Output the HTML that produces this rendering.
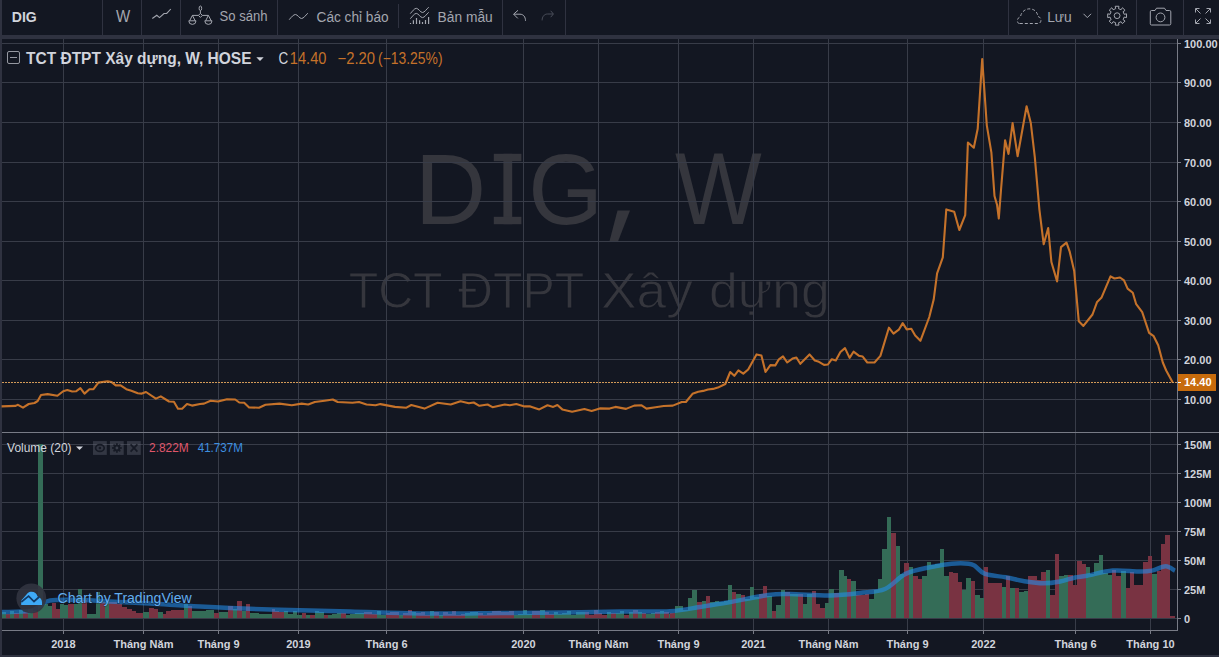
<!DOCTYPE html>
<html><head><meta charset="utf-8"><style>
html,body{margin:0;padding:0;}
body{width:1219px;height:657px;overflow:hidden;background:#2f3240;}
svg{display:block;}
</style></head><body>
<svg width="1219" height="657" viewBox="0 0 1219 657">
<rect x="2" y="0" width="1217" height="35" fill="#131722"/>
<rect x="102" y="0" width="1" height="35" fill="#2f3240"/>
<rect x="141" y="0" width="1" height="35" fill="#2f3240"/>
<rect x="180" y="0" width="1" height="35" fill="#2f3240"/>
<rect x="277" y="0" width="1" height="35" fill="#2f3240"/>
<rect x="398" y="4" width="1" height="24" fill="#2f3240"/>
<rect x="502" y="0" width="1" height="35" fill="#2f3240"/>
<rect x="565" y="0" width="1" height="35" fill="#2f3240"/>
<rect x="1008" y="0" width="1" height="35" fill="#2f3240"/>
<rect x="1097" y="0" width="1" height="35" fill="#2f3240"/>
<rect x="1136" y="0" width="1" height="35" fill="#2f3240"/>
<rect x="1183" y="0" width="1" height="35" fill="#2f3240"/>
<text x="11.82" y="21.90" textLength="25.00" lengthAdjust="spacingAndGlyphs" font-family="Liberation Sans" font-weight="700" font-size="15.00" fill="#d1d4dc" >DIG</text>
<text x="116.05" y="21.70" textLength="14.21" lengthAdjust="spacingAndGlyphs" font-family="Liberation Sans" font-weight="400" font-size="15.57" fill="#a3a6af" >W</text>
<polyline points="152.3,18.5 156.8,15.3 159.5,17.6 164,13.5 166.7,13.4 170.8,9" fill="none" stroke="#a3a6af" stroke-width="1.1"/>
<g fill="none" stroke="#a3a6af" stroke-width="1"><ellipse cx="200.4" cy="8.3" rx="1.3" ry="2.3"/><line x1="200.4" y1="10.6" x2="200.4" y2="13.4"/><path d="M200.4 13.4 L202.4 15.4 L200.4 17.4 L198.4 15.4 Z"/><line x1="192.4" y1="15.4" x2="198.4" y2="15.4"/><line x1="202.4" y1="15.4" x2="208.4" y2="15.4"/><path d="M189.6 20.8 L192.4 15.4 L195.2 20.8"/><path d="M188.8 20.8 H196 A3.6 3.6 0 0 1 188.8 20.8 Z"/><path d="M205.6 20.8 L208.4 15.4 L211.2 20.8"/><path d="M204.8 20.8 H212 A3.6 3.6 0 0 1 204.8 20.8 Z"/></g>
<text x="219.55" y="21.00" textLength="48.07" lengthAdjust="spacingAndGlyphs" font-family="Liberation Sans" font-weight="400" font-size="14.43" fill="#a3a6af" >So sánh</text>
<path d="M289.2 19.7 C291.5 17 293.5 14.5 295.5 14.5 C297.5 14.5 299.5 18.5 301.5 18.5 C303.5 18.5 305.5 15.5 307.8 13.2" fill="none" stroke="#a3a6af" stroke-width="1"/>
<text x="316.52" y="21.85" textLength="72.14" lengthAdjust="spacingAndGlyphs" font-family="Liberation Sans" font-weight="400" font-size="14.29" fill="#a3a6af" >Các chỉ báo</text>
<g fill="none" stroke="#a3a6af" stroke-width="1"><path d="M410.3 13.6 C412.3 11.5 414.3 8.3 416.3 8.3 C418.5 8.3 420.3 12.5 422.5 12.5 C424.5 12.5 426.5 9.2 428.7 7.2"/><path d="M410.3 18.7 C412.3 16.6 414.3 13.4 416.3 13.4 C418.5 13.4 420.3 17.6 422.5 17.6 C424.5 17.6 426.5 14.3 428.7 12.3"/></g>
<line x1="410.5" y1="23.0" x2="410.5" y2="24" stroke="#a3a6af" stroke-width="1.2"/>
<line x1="413.4" y1="20.2" x2="413.4" y2="24" stroke="#a3a6af" stroke-width="1.2"/>
<line x1="416.5" y1="18" x2="416.5" y2="24" stroke="#a3a6af" stroke-width="1.2"/>
<line x1="419.6" y1="20.2" x2="419.6" y2="24" stroke="#a3a6af" stroke-width="1.2"/>
<line x1="422.5" y1="22" x2="422.5" y2="24" stroke="#a3a6af" stroke-width="1.2"/>
<line x1="425.5" y1="20" x2="425.5" y2="24" stroke="#a3a6af" stroke-width="1.2"/>
<line x1="428.6" y1="17.1" x2="428.6" y2="24" stroke="#a3a6af" stroke-width="1.2"/>
<text x="437.60" y="21.90" textLength="55.16" lengthAdjust="spacingAndGlyphs" font-family="Liberation Sans" font-weight="400" font-size="14.43" fill="#a3a6af" >Bản mẫu</text>
<g fill="none" stroke="#a3a6af" stroke-width="1"><path d="M518 10.3 L513.6 14.2 L517.8 18.4"/><path d="M513.8 14.2 H520 C523.5 14.2 525.5 17 525.5 20.8"/></g>
<g fill="none" stroke="#4a4e5a" stroke-width="1"><path d="M550.7 10.8 L553.4 14 L550.7 17.2"/><path d="M553.2 14 H547.5 C544 14 542.1 17 542.1 20.4"/></g>
<path d="M1019.5 23.5 C1016.5 23.5 1016.5 17.5 1020.5 17 C1021 11.5 1026.5 8 1031 9 C1035 9.5 1037.5 12.5 1037.8 16.5 C1042 17 1042 23.5 1038 23.5 Z" fill="none" stroke="#a3a6af" stroke-width="1" stroke-dasharray="3 2"/>
<text x="1047.20" y="21.70" textLength="24.60" lengthAdjust="spacingAndGlyphs" font-family="Liberation Sans" font-weight="400" font-size="14.29" fill="#a3a6af" >Lưu</text>
<polyline points="1083.5,13.8 1087.3,17.6 1091.1,13.8" fill="none" stroke="#a3a6af" stroke-width="1"/>
<path d="M1126.52 13.83 L1126.52 17.57 L1124.16 17.10 L1123.09 19.70 L1125.08 21.03 L1122.43 23.68 L1121.10 21.69 L1118.50 22.76 L1118.97 25.12 L1115.23 25.12 L1115.70 22.76 L1113.10 21.69 L1111.77 23.68 L1109.12 21.03 L1111.11 19.70 L1110.04 17.10 L1107.68 17.57 L1107.68 13.83 L1110.04 14.30 L1111.11 11.70 L1109.12 10.37 L1111.77 7.72 L1113.10 9.71 L1115.70 8.64 L1115.23 6.28 L1118.97 6.28 L1118.50 8.64 L1121.10 9.71 L1122.43 7.72 L1125.08 10.37 L1123.09 11.70 L1124.16 14.30 Z" fill="none" stroke="#a3a6af" stroke-width="1" stroke-linejoin="round"/><circle cx="1117.1" cy="15.7" r="2.9" fill="none" stroke="#a3a6af" stroke-width="1"/>
<path d="M1151.5 10.5 H1155 L1156.5 8.2 H1164.5 L1166 10.5 H1169.5 Q1170.8 10.5 1170.8 11.8 V23.7 Q1170.8 25 1169.5 25 H1151.5 Q1150.3 25 1150.3 23.7 V11.8 Q1150.3 10.5 1151.5 10.5 Z" fill="none" stroke="#a3a6af" stroke-width="1"/><circle cx="1160.5" cy="17.4" r="4.4" fill="none" stroke="#a3a6af" stroke-width="1"/>
<g fill="none" stroke="#a3a6af" stroke-width="1"><path d="M1195.5 12.5 V8.5 H1199.5"/><path d="M1206.5 8.5 H1210.5 V12.5"/><path d="M1210.5 19.5 V23.5 H1206.5"/><path d="M1199.5 23.5 H1195.5 V19.5"/><line x1="1196" y1="9" x2="1200.5" y2="13.5"/><line x1="1210" y1="9" x2="1205.5" y2="13.5"/><line x1="1210" y1="23" x2="1205.5" y2="18.5"/><line x1="1196" y1="23" x2="1200.5" y2="18.5"/></g>
<rect x="2" y="39" width="1217" height="616" fill="#131722"/>
<g fill="#35363d">
<text transform="translate(414.68 223.60) scale(0.9813 1)" font-family="Liberation Sans" font-size="100.87">D</text>
<text transform="translate(528.19 223.60) scale(0.9534 1)" font-family="Liberation Sans" font-size="100.86">G</text>
<text transform="translate(675.08 223.90) scale(0.9075 1)" font-family="Liberation Sans" font-size="101.30">W</text>
<rect x="503.4" y="153.8" width="8.8" height="70.4"/><rect x="493.8" y="153.8" width="27.6" height="7.4"/><rect x="493.8" y="216.8" width="27.6" height="7.4"/>
<path d="M617.5 210.5 H630 L617.8 242 H609.3 Z"/>
</g>
<text x="348.63" y="307.90" textLength="94.02" lengthAdjust="spacingAndGlyphs" font-family="Liberation Sans" font-weight="400" font-size="50.43" fill="#35363d" stroke="#131722" stroke-width="0.9">TCT</text>
<text x="458.12" y="307.90" textLength="126.09" lengthAdjust="spacingAndGlyphs" font-family="Liberation Sans" font-weight="400" font-size="50.43" fill="#35363d" stroke="#131722" stroke-width="0.9">ĐTPT</text>
<text x="600.90" y="307.90" textLength="91.98" lengthAdjust="spacingAndGlyphs" font-family="Liberation Sans" font-weight="400" font-size="50.43" fill="#35363d" stroke="#131722" stroke-width="0.9">Xây</text>
<text x="708.93" y="307.90" textLength="120.88" lengthAdjust="spacingAndGlyphs" font-family="Liberation Sans" font-weight="400" font-size="50.43" fill="#35363d" stroke="#131722" stroke-width="0.9">dựng</text>
<rect x="2" y="43" width="1175" height="1" fill="#383c48"/>
<rect x="2" y="82" width="1175" height="1" fill="#383c48"/>
<rect x="2" y="122" width="1175" height="1" fill="#383c48"/>
<rect x="2" y="162" width="1175" height="1" fill="#383c48"/>
<rect x="2" y="201" width="1175" height="1" fill="#383c48"/>
<rect x="2" y="241" width="1175" height="1" fill="#383c48"/>
<rect x="2" y="280" width="1175" height="1" fill="#383c48"/>
<rect x="2" y="320" width="1175" height="1" fill="#383c48"/>
<rect x="2" y="359" width="1175" height="1" fill="#383c48"/>
<rect x="2" y="399" width="1175" height="1" fill="#383c48"/>
<rect x="2" y="618" width="1175" height="1" fill="#383c48"/>
<rect x="2" y="589" width="1175" height="1" fill="#383c48"/>
<rect x="2" y="560" width="1175" height="1" fill="#383c48"/>
<rect x="2" y="531" width="1175" height="1" fill="#383c48"/>
<rect x="2" y="502" width="1175" height="1" fill="#383c48"/>
<rect x="2" y="473" width="1175" height="1" fill="#383c48"/>
<rect x="2" y="444" width="1175" height="1" fill="#383c48"/>
<rect x="63" y="39" width="1" height="393" fill="#383c48"/>
<rect x="63" y="433" width="1" height="197" fill="#383c48"/>
<rect x="143" y="39" width="1" height="393" fill="#383c48"/>
<rect x="143" y="433" width="1" height="197" fill="#383c48"/>
<rect x="218" y="39" width="1" height="393" fill="#383c48"/>
<rect x="218" y="433" width="1" height="197" fill="#383c48"/>
<rect x="298" y="39" width="1" height="393" fill="#383c48"/>
<rect x="298" y="433" width="1" height="197" fill="#383c48"/>
<rect x="386" y="39" width="1" height="393" fill="#383c48"/>
<rect x="386" y="433" width="1" height="197" fill="#383c48"/>
<rect x="523" y="39" width="1" height="393" fill="#383c48"/>
<rect x="523" y="433" width="1" height="197" fill="#383c48"/>
<rect x="598" y="39" width="1" height="393" fill="#383c48"/>
<rect x="598" y="433" width="1" height="197" fill="#383c48"/>
<rect x="678" y="39" width="1" height="393" fill="#383c48"/>
<rect x="678" y="433" width="1" height="197" fill="#383c48"/>
<rect x="753" y="39" width="1" height="393" fill="#383c48"/>
<rect x="753" y="433" width="1" height="197" fill="#383c48"/>
<rect x="828" y="39" width="1" height="393" fill="#383c48"/>
<rect x="828" y="433" width="1" height="197" fill="#383c48"/>
<rect x="907" y="39" width="1" height="393" fill="#383c48"/>
<rect x="907" y="433" width="1" height="197" fill="#383c48"/>
<rect x="983" y="39" width="1" height="393" fill="#383c48"/>
<rect x="983" y="433" width="1" height="197" fill="#383c48"/>
<rect x="1075" y="39" width="1" height="393" fill="#383c48"/>
<rect x="1075" y="433" width="1" height="197" fill="#383c48"/>
<rect x="1150" y="39" width="1" height="393" fill="#383c48"/>
<rect x="1150" y="433" width="1" height="197" fill="#383c48"/>
<rect x="2" y="612" width="4" height="6" fill="#346c57"/>
<rect x="6" y="614" width="4" height="4" fill="#793342"/>
<rect x="10" y="611" width="4" height="7" fill="#346c57"/>
<rect x="14" y="613" width="5" height="5" fill="#793342"/>
<rect x="19" y="610" width="4" height="8" fill="#346c57"/>
<rect x="23" y="612" width="5" height="6" fill="#793342"/>
<rect x="28" y="609" width="5" height="9" fill="#346c57"/>
<rect x="33" y="611" width="5" height="7" fill="#793342"/>
<rect x="38" y="444" width="5" height="174" fill="#346c57"/>
<rect x="43" y="604" width="5" height="14" fill="#346c57"/>
<rect x="48" y="606" width="4" height="12" fill="#346c57"/>
<rect x="52" y="603" width="4" height="15" fill="#793342"/>
<rect x="56" y="609" width="4" height="9" fill="#793342"/>
<rect x="60" y="604" width="4" height="14" fill="#346c57"/>
<rect x="64" y="605" width="4" height="13" fill="#346c57"/>
<rect x="68" y="604" width="6" height="14" fill="#793342"/>
<rect x="74" y="604" width="4" height="14" fill="#346c57"/>
<rect x="78" y="589" width="4" height="29" fill="#346c57"/>
<rect x="82" y="600" width="5" height="18" fill="#793342"/>
<rect x="87" y="614" width="4" height="4" fill="#346c57"/>
<rect x="91" y="614" width="5" height="4" fill="#346c57"/>
<rect x="96" y="592" width="4" height="26" fill="#346c57"/>
<rect x="100" y="602" width="5" height="16" fill="#793342"/>
<rect x="105" y="602" width="4" height="16" fill="#346c57"/>
<rect x="109" y="602" width="8" height="16" fill="#793342"/>
<rect x="117" y="604" width="5" height="14" fill="#793342"/>
<rect x="122" y="607" width="5" height="11" fill="#793342"/>
<rect x="127" y="609" width="5" height="9" fill="#793342"/>
<rect x="132" y="611" width="4" height="7" fill="#793342"/>
<rect x="136" y="613" width="7" height="5" fill="#793342"/>
<rect x="143" y="612" width="6" height="6" fill="#346c57"/>
<rect x="149" y="608" width="5" height="10" fill="#793342"/>
<rect x="154" y="609" width="4" height="9" fill="#793342"/>
<rect x="158" y="612" width="5" height="6" fill="#346c57"/>
<rect x="163" y="614" width="3" height="4" fill="#793342"/>
<rect x="166" y="611" width="5" height="7" fill="#793342"/>
<rect x="171" y="610" width="13" height="8" fill="#793342"/>
<rect x="184" y="604" width="4" height="14" fill="#346c57"/>
<rect x="188" y="606" width="4" height="12" fill="#793342"/>
<rect x="192" y="611" width="14" height="7" fill="#346c57"/>
<rect x="206" y="610" width="8" height="8" fill="#346c57"/>
<rect x="214" y="613" width="5" height="5" fill="#793342"/>
<rect x="219" y="612" width="9" height="6" fill="#346c57"/>
<rect x="228" y="606" width="5" height="12" fill="#793342"/>
<rect x="233" y="609" width="4" height="9" fill="#346c57"/>
<rect x="237" y="601" width="5" height="17" fill="#793342"/>
<rect x="242" y="611" width="4" height="7" fill="#346c57"/>
<rect x="246" y="604" width="4" height="14" fill="#793342"/>
<rect x="250" y="613" width="9" height="5" fill="#346c57"/>
<rect x="259" y="614" width="13" height="4" fill="#346c57"/>
<rect x="272" y="609" width="3" height="9" fill="#793342"/>
<rect x="275" y="611" width="4" height="7" fill="#793342"/>
<rect x="279" y="612" width="5" height="6" fill="#793342"/>
<rect x="284" y="611" width="4" height="7" fill="#346c57"/>
<rect x="288" y="614" width="5" height="4" fill="#346c57"/>
<rect x="293" y="611" width="4" height="7" fill="#346c57"/>
<rect x="297" y="615" width="5" height="3" fill="#346c57"/>
<rect x="302" y="613" width="4" height="5" fill="#793342"/>
<rect x="306" y="615" width="4" height="3" fill="#346c57"/>
<rect x="310" y="615" width="5" height="3" fill="#793342"/>
<rect x="315" y="611" width="4" height="7" fill="#346c57"/>
<rect x="319" y="612" width="5" height="6" fill="#346c57"/>
<rect x="324" y="615" width="4" height="3" fill="#793342"/>
<rect x="328" y="615" width="4" height="3" fill="#346c57"/>
<rect x="332" y="614" width="5" height="4" fill="#346c57"/>
<rect x="337" y="613" width="4" height="5" fill="#346c57"/>
<rect x="341" y="613" width="5" height="5" fill="#793342"/>
<rect x="346" y="615" width="4" height="3" fill="#346c57"/>
<rect x="350" y="614" width="5" height="4" fill="#346c57"/>
<rect x="355" y="613" width="4" height="5" fill="#346c57"/>
<rect x="359" y="613" width="5" height="5" fill="#346c57"/>
<rect x="364" y="612" width="4" height="6" fill="#793342"/>
<rect x="368" y="612" width="4" height="6" fill="#793342"/>
<rect x="372" y="614" width="5" height="4" fill="#793342"/>
<rect x="377" y="611" width="4" height="7" fill="#346c57"/>
<rect x="381" y="615" width="5" height="3" fill="#346c57"/>
<rect x="386" y="613" width="4" height="5" fill="#793342"/>
<rect x="390" y="612" width="4" height="6" fill="#793342"/>
<rect x="394" y="612" width="5" height="6" fill="#793342"/>
<rect x="399" y="615" width="4" height="3" fill="#346c57"/>
<rect x="403" y="613" width="5" height="5" fill="#793342"/>
<rect x="408" y="610" width="4" height="8" fill="#793342"/>
<rect x="412" y="612" width="4" height="6" fill="#346c57"/>
<rect x="416" y="613" width="5" height="5" fill="#793342"/>
<rect x="421" y="612" width="4" height="6" fill="#793342"/>
<rect x="425" y="615" width="5" height="3" fill="#793342"/>
<rect x="430" y="611" width="4" height="7" fill="#346c57"/>
<rect x="434" y="612" width="5" height="6" fill="#793342"/>
<rect x="439" y="615" width="4" height="3" fill="#346c57"/>
<rect x="443" y="612" width="5" height="6" fill="#793342"/>
<rect x="448" y="614" width="4" height="4" fill="#793342"/>
<rect x="452" y="611" width="4" height="7" fill="#793342"/>
<rect x="456" y="615" width="5" height="3" fill="#793342"/>
<rect x="461" y="614" width="4" height="4" fill="#793342"/>
<rect x="465" y="613" width="5" height="5" fill="#346c57"/>
<rect x="470" y="612" width="4" height="6" fill="#346c57"/>
<rect x="474" y="612" width="4" height="6" fill="#346c57"/>
<rect x="478" y="613" width="5" height="5" fill="#793342"/>
<rect x="483" y="615" width="4" height="3" fill="#793342"/>
<rect x="487" y="613" width="5" height="5" fill="#793342"/>
<rect x="492" y="611" width="4" height="7" fill="#793342"/>
<rect x="496" y="611" width="5" height="7" fill="#793342"/>
<rect x="501" y="612" width="4" height="6" fill="#793342"/>
<rect x="505" y="612" width="4" height="6" fill="#793342"/>
<rect x="509" y="611" width="5" height="7" fill="#793342"/>
<rect x="514" y="615" width="4" height="3" fill="#346c57"/>
<rect x="518" y="614" width="5" height="4" fill="#346c57"/>
<rect x="523" y="610" width="4" height="8" fill="#346c57"/>
<rect x="527" y="614" width="5" height="4" fill="#346c57"/>
<rect x="532" y="611" width="4" height="7" fill="#793342"/>
<rect x="536" y="611" width="4" height="7" fill="#793342"/>
<rect x="540" y="610" width="5" height="8" fill="#346c57"/>
<rect x="545" y="612" width="4" height="6" fill="#793342"/>
<rect x="549" y="614" width="5" height="4" fill="#793342"/>
<rect x="554" y="612" width="4" height="6" fill="#346c57"/>
<rect x="558" y="614" width="4" height="4" fill="#346c57"/>
<rect x="562" y="613" width="5" height="5" fill="#346c57"/>
<rect x="567" y="611" width="4" height="7" fill="#346c57"/>
<rect x="571" y="615" width="5" height="3" fill="#346c57"/>
<rect x="576" y="612" width="4" height="6" fill="#346c57"/>
<rect x="580" y="612" width="5" height="6" fill="#346c57"/>
<rect x="585" y="612" width="4" height="6" fill="#793342"/>
<rect x="589" y="615" width="5" height="3" fill="#793342"/>
<rect x="594" y="610" width="4" height="8" fill="#793342"/>
<rect x="598" y="613" width="4" height="5" fill="#793342"/>
<rect x="602" y="615" width="5" height="3" fill="#793342"/>
<rect x="607" y="612" width="4" height="6" fill="#346c57"/>
<rect x="611" y="613" width="5" height="5" fill="#793342"/>
<rect x="616" y="613" width="4" height="5" fill="#346c57"/>
<rect x="620" y="611" width="4" height="7" fill="#346c57"/>
<rect x="624" y="615" width="5" height="3" fill="#793342"/>
<rect x="629" y="612" width="4" height="6" fill="#346c57"/>
<rect x="633" y="610" width="5" height="8" fill="#793342"/>
<rect x="638" y="612" width="4" height="6" fill="#346c57"/>
<rect x="642" y="613" width="4" height="5" fill="#793342"/>
<rect x="646" y="614" width="5" height="4" fill="#346c57"/>
<rect x="651" y="613" width="4" height="5" fill="#346c57"/>
<rect x="655" y="612" width="5" height="6" fill="#793342"/>
<rect x="660" y="611" width="4" height="7" fill="#346c57"/>
<rect x="664" y="612" width="5" height="6" fill="#793342"/>
<rect x="669" y="614" width="4" height="4" fill="#346c57"/>
<rect x="670" y="613" width="5" height="5" fill="#793342"/>
<rect x="675" y="606" width="8" height="12" fill="#346c57"/>
<rect x="683" y="610" width="5" height="8" fill="#346c57"/>
<rect x="688" y="598" width="4" height="20" fill="#346c57"/>
<rect x="692" y="590" width="5" height="28" fill="#346c57"/>
<rect x="697" y="602" width="5" height="16" fill="#793342"/>
<rect x="702" y="601" width="4" height="17" fill="#346c57"/>
<rect x="706" y="596" width="4" height="22" fill="#793342"/>
<rect x="710" y="602" width="5" height="16" fill="#346c57"/>
<rect x="715" y="601" width="4" height="17" fill="#346c57"/>
<rect x="719" y="602" width="5" height="16" fill="#346c57"/>
<rect x="724" y="601" width="4" height="17" fill="#346c57"/>
<rect x="728" y="585" width="4" height="33" fill="#346c57"/>
<rect x="732" y="592" width="4" height="26" fill="#793342"/>
<rect x="736" y="594" width="5" height="24" fill="#346c57"/>
<rect x="741" y="595" width="4" height="23" fill="#793342"/>
<rect x="745" y="599" width="5" height="19" fill="#346c57"/>
<rect x="750" y="587" width="4" height="31" fill="#346c57"/>
<rect x="754" y="597" width="5" height="21" fill="#346c57"/>
<rect x="759" y="594" width="4" height="24" fill="#793342"/>
<rect x="763" y="586" width="4" height="32" fill="#793342"/>
<rect x="767" y="596" width="5" height="22" fill="#346c57"/>
<rect x="772" y="611" width="4" height="7" fill="#793342"/>
<rect x="776" y="605" width="5" height="13" fill="#346c57"/>
<rect x="781" y="590" width="4" height="28" fill="#346c57"/>
<rect x="785" y="592" width="5" height="26" fill="#793342"/>
<rect x="790" y="594" width="8" height="24" fill="#346c57"/>
<rect x="798" y="594" width="5" height="24" fill="#793342"/>
<rect x="803" y="604" width="4" height="14" fill="#346c57"/>
<rect x="807" y="594" width="5" height="24" fill="#346c57"/>
<rect x="812" y="591" width="4" height="27" fill="#793342"/>
<rect x="816" y="604" width="4" height="14" fill="#793342"/>
<rect x="820" y="608" width="5" height="10" fill="#793342"/>
<rect x="825" y="603" width="4" height="15" fill="#346c57"/>
<rect x="829" y="589" width="5" height="29" fill="#346c57"/>
<rect x="834" y="593" width="5" height="25" fill="#793342"/>
<rect x="839" y="570" width="5" height="48" fill="#346c57"/>
<rect x="844" y="576" width="3" height="42" fill="#346c57"/>
<rect x="847" y="579" width="4" height="39" fill="#793342"/>
<rect x="851" y="581" width="5" height="37" fill="#346c57"/>
<rect x="856" y="595" width="4" height="23" fill="#793342"/>
<rect x="860" y="595" width="5" height="23" fill="#793342"/>
<rect x="865" y="594" width="4" height="24" fill="#793342"/>
<rect x="869" y="599" width="5" height="19" fill="#346c57"/>
<rect x="874" y="590" width="4" height="28" fill="#346c57"/>
<rect x="878" y="579" width="4" height="39" fill="#346c57"/>
<rect x="882" y="549" width="5" height="69" fill="#346c57"/>
<rect x="887" y="517" width="4" height="101" fill="#346c57"/>
<rect x="891" y="533" width="5" height="85" fill="#793342"/>
<rect x="896" y="546" width="4" height="72" fill="#346c57"/>
<rect x="900" y="574" width="4" height="44" fill="#346c57"/>
<rect x="904" y="563" width="5" height="55" fill="#793342"/>
<rect x="909" y="567" width="4" height="51" fill="#346c57"/>
<rect x="913" y="576" width="5" height="42" fill="#793342"/>
<rect x="918" y="579" width="4" height="39" fill="#793342"/>
<rect x="922" y="576" width="5" height="42" fill="#346c57"/>
<rect x="927" y="562" width="4" height="56" fill="#346c57"/>
<rect x="931" y="565" width="4" height="53" fill="#346c57"/>
<rect x="935" y="564" width="5" height="54" fill="#346c57"/>
<rect x="940" y="549" width="4" height="69" fill="#346c57"/>
<rect x="944" y="576" width="5" height="42" fill="#346c57"/>
<rect x="949" y="572" width="4" height="46" fill="#793342"/>
<rect x="953" y="573" width="5" height="45" fill="#793342"/>
<rect x="958" y="582" width="4" height="36" fill="#793342"/>
<rect x="962" y="590" width="4" height="28" fill="#346c57"/>
<rect x="966" y="578" width="5" height="40" fill="#346c57"/>
<rect x="971" y="581" width="4" height="37" fill="#793342"/>
<rect x="975" y="595" width="5" height="23" fill="#346c57"/>
<rect x="980" y="598" width="4" height="20" fill="#346c57"/>
<rect x="984" y="567" width="4" height="51" fill="#793342"/>
<rect x="988" y="583" width="14" height="35" fill="#793342"/>
<rect x="1002" y="587" width="4" height="31" fill="#346c57"/>
<rect x="1006" y="576" width="4" height="42" fill="#793342"/>
<rect x="1010" y="588" width="5" height="30" fill="#346c57"/>
<rect x="1015" y="588" width="4" height="30" fill="#793342"/>
<rect x="1019" y="592" width="5" height="26" fill="#346c57"/>
<rect x="1024" y="591" width="4" height="27" fill="#346c57"/>
<rect x="1028" y="576" width="9" height="42" fill="#793342"/>
<rect x="1037" y="580" width="4" height="38" fill="#793342"/>
<rect x="1041" y="572" width="5" height="46" fill="#793342"/>
<rect x="1046" y="570" width="4" height="48" fill="#346c57"/>
<rect x="1050" y="595" width="5" height="23" fill="#793342"/>
<rect x="1055" y="554" width="4" height="64" fill="#793342"/>
<rect x="1059" y="576" width="5" height="42" fill="#346c57"/>
<rect x="1064" y="575" width="4" height="43" fill="#346c57"/>
<rect x="1068" y="575" width="5" height="43" fill="#793342"/>
<rect x="1073" y="585" width="4" height="33" fill="#793342"/>
<rect x="1077" y="561" width="5" height="57" fill="#793342"/>
<rect x="1082" y="564" width="4" height="54" fill="#793342"/>
<rect x="1086" y="567" width="4" height="51" fill="#346c57"/>
<rect x="1090" y="574" width="4" height="44" fill="#346c57"/>
<rect x="1094" y="563" width="5" height="55" fill="#346c57"/>
<rect x="1099" y="555" width="4" height="63" fill="#346c57"/>
<rect x="1103" y="573" width="5" height="45" fill="#346c57"/>
<rect x="1108" y="575" width="4" height="43" fill="#346c57"/>
<rect x="1112" y="570" width="4" height="48" fill="#793342"/>
<rect x="1116" y="576" width="5" height="42" fill="#793342"/>
<rect x="1121" y="571" width="5" height="47" fill="#346c57"/>
<rect x="1126" y="588" width="4" height="30" fill="#793342"/>
<rect x="1130" y="572" width="4" height="46" fill="#793342"/>
<rect x="1134" y="585" width="9" height="33" fill="#793342"/>
<rect x="1143" y="562" width="5" height="56" fill="#793342"/>
<rect x="1148" y="556" width="4" height="62" fill="#793342"/>
<rect x="1152" y="574" width="5" height="44" fill="#346c57"/>
<rect x="1157" y="571" width="4" height="47" fill="#793342"/>
<rect x="1161" y="544" width="4" height="74" fill="#793342"/>
<rect x="1165" y="535" width="5" height="83" fill="#793342"/>
<rect x="1170" y="616" width="5" height="2" fill="#793342"/>
<path d="M2 612 C6.7 611.8 23.7 612.0 30 611 C36.3 610.0 36.7 607.8 40 606 C43.3 604.2 43.3 601.5 50 600.5 C56.7 599.5 70.0 599.8 80 600 C90.0 600.2 98.3 600.9 110 601.5 C121.7 602.1 135.0 602.7 150 603.5 C165.0 604.3 180.0 605.5 200 606.5 C220.0 607.5 245.0 608.7 270 609.5 C295.0 610.3 325.0 610.8 350 611.5 C375.0 612.2 395.0 613.2 420 613.5 C445.0 613.8 476.7 613.2 500 613 C523.3 612.8 540.0 612.8 560 612.5 C580.0 612.2 601.7 611.7 620 611.5 C638.3 611.3 656.7 612.0 670 611.2 C683.3 610.5 690.2 608.5 700 607 C709.8 605.5 717.7 604.3 729 602.3 C740.3 600.3 757.8 596.4 768 595 C778.2 593.6 779.7 593.9 790 594 C800.3 594.1 818.3 595.7 830 595.5 C841.7 595.3 850.8 594.1 860 593 C869.2 591.9 877.4 592.2 885 589 C892.6 585.8 897.9 577.6 905.6 573.9 C913.3 570.2 923.4 568.7 931 567 C938.6 565.3 945.2 564.2 951.5 563.7 C957.8 563.2 964.7 563.3 968.6 563.7 C972.5 564.1 972.3 564.3 975 566 C977.7 567.7 979.9 572.0 985 573.9 C990.1 575.8 998.9 576.0 1005.7 577.3 C1012.6 578.6 1019.9 580.5 1026.1 581.5 C1032.3 582.5 1037.4 583.3 1043.1 583.3 C1048.8 583.3 1054.9 582.5 1060.2 581.5 C1065.5 580.5 1070.5 578.5 1075 577.5 C1079.5 576.5 1080.7 576.9 1087 575.7 C1093.3 574.6 1104.2 571.3 1112.7 570.6 C1121.2 569.9 1131.8 571.4 1138.3 571.4 C1144.8 571.4 1147.4 571.5 1151.9 570.6 C1156.5 569.8 1161.8 566.3 1165.6 566.3 C1169.4 566.3 1173.4 569.9 1175 570.6" fill="none" stroke="rgba(33,145,240,0.56)" stroke-width="4.5" stroke-linejoin="round"/>
<path d="M1.6 406.4 L15.6 405.9 L18.0 404.8 L23.0 407.6 L28.7 404.0 L34.5 403.0 L37.7 401.0 L41.0 395.0 L47.6 394.1 L57.4 395.8 L63.2 391.2 L67.3 390.0 L72.2 391.5 L76.3 391.2 L80.4 388.2 L84.5 393.6 L89.4 389.2 L93.5 389.2 L98.4 382.6 L107.5 381.3 L111.6 382.1 L115.7 385.4 L120.6 385.4 L126.3 389.2 L131.3 390.8 L137.8 393.3 L141.9 393.6 L146.0 392.0 L155.9 398.6 L160.8 396.4 L169.0 401.5 L173.9 401.8 L178.0 408.7 L182.1 408.7 L187.0 404.0 L192.0 405.6 L200.0 404.0 L204.0 403.6 L210.6 400.7 L218.0 401.5 L227.0 399.2 L235.2 399.5 L239.3 402.5 L244.2 402.8 L249.1 407.4 L259.0 407.7 L265.5 404.8 L279.5 403.6 L291.8 405.3 L301.6 403.6 L308.2 404.5 L314.8 402.0 L324.6 400.7 L332.8 399.5 L337.7 402.0 L352.5 402.8 L359.0 402.0 L366.5 404.5 L375.5 405.3 L380.4 404.1 L395.0 406.9 L406.4 407.7 L411.3 405.0 L424.5 408.6 L437.6 402.8 L450.7 404.5 L460.5 401.2 L468.8 403.3 L473.7 402.5 L479.4 405.8 L487.6 404.5 L492.5 407.2 L504.8 404.5 L509.8 405.3 L516.3 404.0 L524.5 406.4 L530.3 406.4 L539.3 409.4 L547.5 405.3 L553.2 406.9 L557.4 405.0 L562.3 409.4 L572.1 411.8 L584.4 409.0 L591.6 410.9 L599.8 408.4 L609.6 408.6 L615.4 406.9 L626.0 408.9 L634.2 405.6 L641.6 405.3 L646.5 408.6 L655.5 407.3 L663.8 406.0 L672.8 405.6 L681.8 402.0 L685.9 402.0 L692.5 393.8 L698.2 391.7 L703.1 390.9 L708.0 389.5 L713.0 388.9 L717.9 387.6 L725.3 384.0 L730.2 372.0 L734.3 375.8 L738.4 370.4 L743.3 373.6 L748.2 369.5 L756.5 354.4 L761.4 355.6 L765.5 372.0 L770.4 365.1 L775.3 365.4 L778.6 359.7 L783.0 356.3 L787.2 362.5 L792.5 358.6 L796.4 357.5 L800.3 363.8 L809.5 354.4 L814.8 360.5 L818.1 361.4 L824.0 364.9 L827.9 364.5 L831.8 359.2 L835.8 360.5 L840.4 352.0 L845.0 348.1 L849.6 357.9 L853.5 351.7 L858.8 355.7 L862.7 356.6 L867.3 362.5 L874.5 362.5 L880.4 355.9 L888.9 327.7 L893.5 333.6 L898.8 329.7 L902.7 323.1 L906.7 329.4 L911.3 328.8 L915.2 335.6 L920.4 340.8 L929.3 317.0 L933.7 299.6 L937.1 273.3 L942.8 257.4 L946.3 209.4 L954.2 211.7 L959.3 230.0 L965.2 215.1 L967.9 142.5 L973.8 147.7 L977.7 128.8 L982.2 59.1 L986.8 125.3 L991.4 152.7 L994.5 196.0 L997.1 205.0 L998.8 218.5 L1001.0 190.0 L1005.1 140.2 L1008.5 153.9 L1012.6 123.1 L1017.6 156.2 L1026.6 106.2 L1030.8 123.0 L1034.8 157.1 L1039.4 209.6 L1043.7 244.3 L1048.2 228.0 L1051.4 262.0 L1057.1 281.4 L1061.0 247.1 L1066.5 242.6 L1069.7 251.7 L1074.2 271.1 L1078.8 321.3 L1083.4 325.9 L1092.5 314.5 L1097.1 301.9 L1101.6 297.4 L1110.5 276.3 L1114.5 278.5 L1120.0 277.5 L1124.0 280.3 L1127.6 288.6 L1132.8 292.8 L1136.2 304.2 L1142.2 312.2 L1149.1 332.8 L1153.7 336.2 L1158.2 345.3 L1162.8 362.5 L1166.2 370.5 L1172.6 382.3" fill="none" stroke="#c5722a" stroke-width="2.1" stroke-linejoin="round"/>
<line x1="2" y1="382.5" x2="1177" y2="382.5" stroke="#d39a58" stroke-width="1" stroke-dasharray="2 1"/>
<rect x="1177" y="39" width="1" height="592" fill="#787b86"/>
<rect x="2" y="432" width="1217" height="1" fill="#787b86"/>
<rect x="2" y="630" width="1176" height="1" fill="#787b86"/>
<rect x="1178" y="43" width="3" height="1" fill="#787b86"/>
<text x="1184" y="47.5" font-family="Liberation Sans" font-weight="700" font-size="11" fill="#d1d4dc">100.00</text>
<rect x="1178" y="82" width="3" height="1" fill="#787b86"/>
<text x="1184" y="86.5" font-family="Liberation Sans" font-weight="700" font-size="11" fill="#d1d4dc">90.00</text>
<rect x="1178" y="122" width="3" height="1" fill="#787b86"/>
<text x="1184" y="126.5" font-family="Liberation Sans" font-weight="700" font-size="11" fill="#d1d4dc">80.00</text>
<rect x="1178" y="162" width="3" height="1" fill="#787b86"/>
<text x="1184" y="166.5" font-family="Liberation Sans" font-weight="700" font-size="11" fill="#d1d4dc">70.00</text>
<rect x="1178" y="201" width="3" height="1" fill="#787b86"/>
<text x="1184" y="205.5" font-family="Liberation Sans" font-weight="700" font-size="11" fill="#d1d4dc">60.00</text>
<rect x="1178" y="241" width="3" height="1" fill="#787b86"/>
<text x="1184" y="245.5" font-family="Liberation Sans" font-weight="700" font-size="11" fill="#d1d4dc">50.00</text>
<rect x="1178" y="280" width="3" height="1" fill="#787b86"/>
<text x="1184" y="284.5" font-family="Liberation Sans" font-weight="700" font-size="11" fill="#d1d4dc">40.00</text>
<rect x="1178" y="320" width="3" height="1" fill="#787b86"/>
<text x="1184" y="324.5" font-family="Liberation Sans" font-weight="700" font-size="11" fill="#d1d4dc">30.00</text>
<rect x="1178" y="359" width="3" height="1" fill="#787b86"/>
<text x="1184" y="363.5" font-family="Liberation Sans" font-weight="700" font-size="11" fill="#d1d4dc">20.00</text>
<rect x="1178" y="399" width="3" height="1" fill="#787b86"/>
<text x="1184" y="403.5" font-family="Liberation Sans" font-weight="700" font-size="11" fill="#d1d4dc">10.00</text>
<rect x="1178" y="618" width="3" height="1" fill="#787b86"/>
<text x="1184" y="622.5" font-family="Liberation Sans" font-weight="700" font-size="11" fill="#d1d4dc">0</text>
<rect x="1178" y="589" width="3" height="1" fill="#787b86"/>
<text x="1184" y="593.5" font-family="Liberation Sans" font-weight="700" font-size="11" fill="#d1d4dc">25M</text>
<rect x="1178" y="560" width="3" height="1" fill="#787b86"/>
<text x="1184" y="564.5" font-family="Liberation Sans" font-weight="700" font-size="11" fill="#d1d4dc">50M</text>
<rect x="1178" y="531" width="3" height="1" fill="#787b86"/>
<text x="1184" y="535.5" font-family="Liberation Sans" font-weight="700" font-size="11" fill="#d1d4dc">75M</text>
<rect x="1178" y="502" width="3" height="1" fill="#787b86"/>
<text x="1184" y="506.5" font-family="Liberation Sans" font-weight="700" font-size="11" fill="#d1d4dc">100M</text>
<rect x="1178" y="473" width="3" height="1" fill="#787b86"/>
<text x="1184" y="477.5" font-family="Liberation Sans" font-weight="700" font-size="11" fill="#d1d4dc">125M</text>
<rect x="1178" y="444" width="3" height="1" fill="#787b86"/>
<text x="1184" y="448.5" font-family="Liberation Sans" font-weight="700" font-size="11" fill="#d1d4dc">150M</text>
<rect x="1178" y="374" width="38" height="17" fill="#c76b0c"/>
<rect x="1178" y="382" width="3" height="1" fill="#ffffff"/>
<text x="1184" y="386" font-family="Liberation Sans" font-weight="700" font-size="11" fill="#ffffff">14.40</text>
<rect x="63" y="631" width="1" height="3" fill="#787b86"/>
<text x="63.5" y="648" text-anchor="middle" font-family="Liberation Sans" font-weight="700" font-size="11" fill="#d1d4dc">2018</text>
<rect x="143" y="631" width="1" height="3" fill="#787b86"/>
<text x="143.5" y="648" text-anchor="middle" font-family="Liberation Sans" font-weight="700" font-size="11" fill="#d1d4dc">Tháng Năm</text>
<rect x="218" y="631" width="1" height="3" fill="#787b86"/>
<text x="218.5" y="648" text-anchor="middle" font-family="Liberation Sans" font-weight="700" font-size="11" fill="#d1d4dc">Tháng 9</text>
<rect x="298" y="631" width="1" height="3" fill="#787b86"/>
<text x="298.5" y="648" text-anchor="middle" font-family="Liberation Sans" font-weight="700" font-size="11" fill="#d1d4dc">2019</text>
<rect x="386" y="631" width="1" height="3" fill="#787b86"/>
<text x="386.5" y="648" text-anchor="middle" font-family="Liberation Sans" font-weight="700" font-size="11" fill="#d1d4dc">Tháng 6</text>
<rect x="523" y="631" width="1" height="3" fill="#787b86"/>
<text x="523.5" y="648" text-anchor="middle" font-family="Liberation Sans" font-weight="700" font-size="11" fill="#d1d4dc">2020</text>
<rect x="598" y="631" width="1" height="3" fill="#787b86"/>
<text x="598.5" y="648" text-anchor="middle" font-family="Liberation Sans" font-weight="700" font-size="11" fill="#d1d4dc">Tháng Năm</text>
<rect x="678" y="631" width="1" height="3" fill="#787b86"/>
<text x="678.5" y="648" text-anchor="middle" font-family="Liberation Sans" font-weight="700" font-size="11" fill="#d1d4dc">Tháng 9</text>
<rect x="753" y="631" width="1" height="3" fill="#787b86"/>
<text x="753.5" y="648" text-anchor="middle" font-family="Liberation Sans" font-weight="700" font-size="11" fill="#d1d4dc">2021</text>
<rect x="828" y="631" width="1" height="3" fill="#787b86"/>
<text x="828.5" y="648" text-anchor="middle" font-family="Liberation Sans" font-weight="700" font-size="11" fill="#d1d4dc">Tháng Năm</text>
<rect x="907" y="631" width="1" height="3" fill="#787b86"/>
<text x="907.5" y="648" text-anchor="middle" font-family="Liberation Sans" font-weight="700" font-size="11" fill="#d1d4dc">Tháng 9</text>
<rect x="983" y="631" width="1" height="3" fill="#787b86"/>
<text x="983.5" y="648" text-anchor="middle" font-family="Liberation Sans" font-weight="700" font-size="11" fill="#d1d4dc">2022</text>
<rect x="1075" y="631" width="1" height="3" fill="#787b86"/>
<text x="1075.5" y="648" text-anchor="middle" font-family="Liberation Sans" font-weight="700" font-size="11" fill="#d1d4dc">Tháng 6</text>
<rect x="1150" y="631" width="1" height="3" fill="#787b86"/>
<text x="1150.5" y="648" text-anchor="middle" font-family="Liberation Sans" font-weight="700" font-size="11" fill="#d1d4dc">Tháng 10</text>
<rect x="7.5" y="51.5" width="12" height="12" rx="1.5" fill="none" stroke="#9598a1" stroke-width="1"/><rect x="10" y="57" width="7" height="1" fill="#9598a1"/>
<text x="26.05" y="63.60" textLength="225.45" lengthAdjust="spacingAndGlyphs" font-family="Liberation Sans" font-weight="700" font-size="16.00" fill="#d1d4dc" >TCT ĐTPT Xây dựng, W, HOSE</text>
<path d="M256.3 57.3 H263.7 L260 61 Z" fill="#d1d4dc"/>
<text x="278.53" y="63.80" textLength="9.74" lengthAdjust="spacingAndGlyphs" font-family="Liberation Sans" font-weight="400" font-size="15.57" fill="#d1d4dc" >C</text>
<text x="289.83" y="63.80" textLength="36.59" lengthAdjust="spacingAndGlyphs" font-family="Liberation Sans" font-weight="400" font-size="15.57" fill="#c5722a" >14.40</text>
<text x="337.56" y="63.80" textLength="37.54" lengthAdjust="spacingAndGlyphs" font-family="Liberation Sans" font-weight="400" font-size="15.57" fill="#c5722a" >−2.20</text>
<text x="378.07" y="63.80" textLength="64.49" lengthAdjust="spacingAndGlyphs" font-family="Liberation Sans" font-weight="400" font-size="15.57" fill="#c5722a" >(−13.25%)</text>
<text x="7.08" y="451.70" textLength="64.46" lengthAdjust="spacingAndGlyphs" font-family="Liberation Sans" font-weight="400" font-size="12.43" fill="#d1d4dc" >Volume (20)</text>
<path d="M76 446.5 H83 L79.5 450 Z" fill="#d1d4dc"/>
<rect x="93.0" y="441.1" width="13.8" height="13.8" fill="rgba(95,100,115,0.42)"/>
<rect x="109.9" y="441.1" width="13.8" height="13.8" fill="rgba(95,100,115,0.42)"/>
<rect x="127.0" y="441.1" width="13.8" height="13.8" fill="rgba(95,100,115,0.42)"/>
<g fill="none" stroke="#161a25" stroke-width="1.7"><ellipse cx="99.9" cy="448" rx="4.3" ry="3.4"/><line x1="130.6" y1="444.4" x2="137.4" y2="451.6"/><line x1="137.4" y1="444.4" x2="130.6" y2="451.6"/></g>
<circle cx="99.9" cy="448" r="1.3" fill="#161a25"/>
<path d="M121.71 447.04 L121.71 448.96 L120.43 448.70 L119.89 450.00 L120.97 450.72 L119.62 452.07 L118.90 450.99 L117.60 451.53 L117.86 452.81 L115.94 452.81 L116.20 451.53 L114.90 450.99 L114.18 452.07 L112.83 450.72 L113.91 450.00 L113.37 448.70 L112.09 448.96 L112.09 447.04 L113.37 447.30 L113.91 446.00 L112.83 445.28 L114.18 443.93 L114.90 445.01 L116.20 444.47 L115.94 443.19 L117.86 443.19 L117.60 444.47 L118.90 445.01 L119.62 443.93 L120.97 445.28 L119.89 446.00 L120.43 447.30 Z" fill="#161a25"/><circle cx="116.9" cy="448" r="1.4" fill="#3c404c"/>
<text x="149.11" y="451.90" textLength="39.61" lengthAdjust="spacingAndGlyphs" font-family="Liberation Sans" font-weight="400" font-size="12.71" fill="#e0566a" >2.822M</text>
<text x="197.67" y="451.90" textLength="45.28" lengthAdjust="spacingAndGlyphs" font-family="Liberation Sans" font-weight="400" font-size="12.71" fill="#3d8fe0" >41.737M</text>
<circle cx="31.3" cy="598.35" r="14.9" fill="rgba(50,52,64,0.9)"/>
<path d="M21.2 604.9 V601.8 C21.2 600.5 21.8 599.6 22.8 598.8 L27.8 593 C28.8 592.1 30 591.8 31.5 591.8 C34.6 591.8 36.8 593.8 37.6 596.4 C40.3 597.2 42 599.4 42 602.2 V604.9 Z" fill="#3eaaf8"/>
<polyline points="21.3,602 28.6,596.1 34,601.5 39.6,596.5" fill="none" stroke="#123a66" stroke-width="1.7"/>
<text x="57.60" y="602.90" textLength="134.03" lengthAdjust="spacingAndGlyphs" font-family="Liberation Sans" font-weight="400" font-size="14.29" fill="#62aef0" stroke="rgba(19,23,34,0.45)" stroke-width="1.5" paint-order="stroke">Chart by TradingView</text>
</svg>
</body></html>
